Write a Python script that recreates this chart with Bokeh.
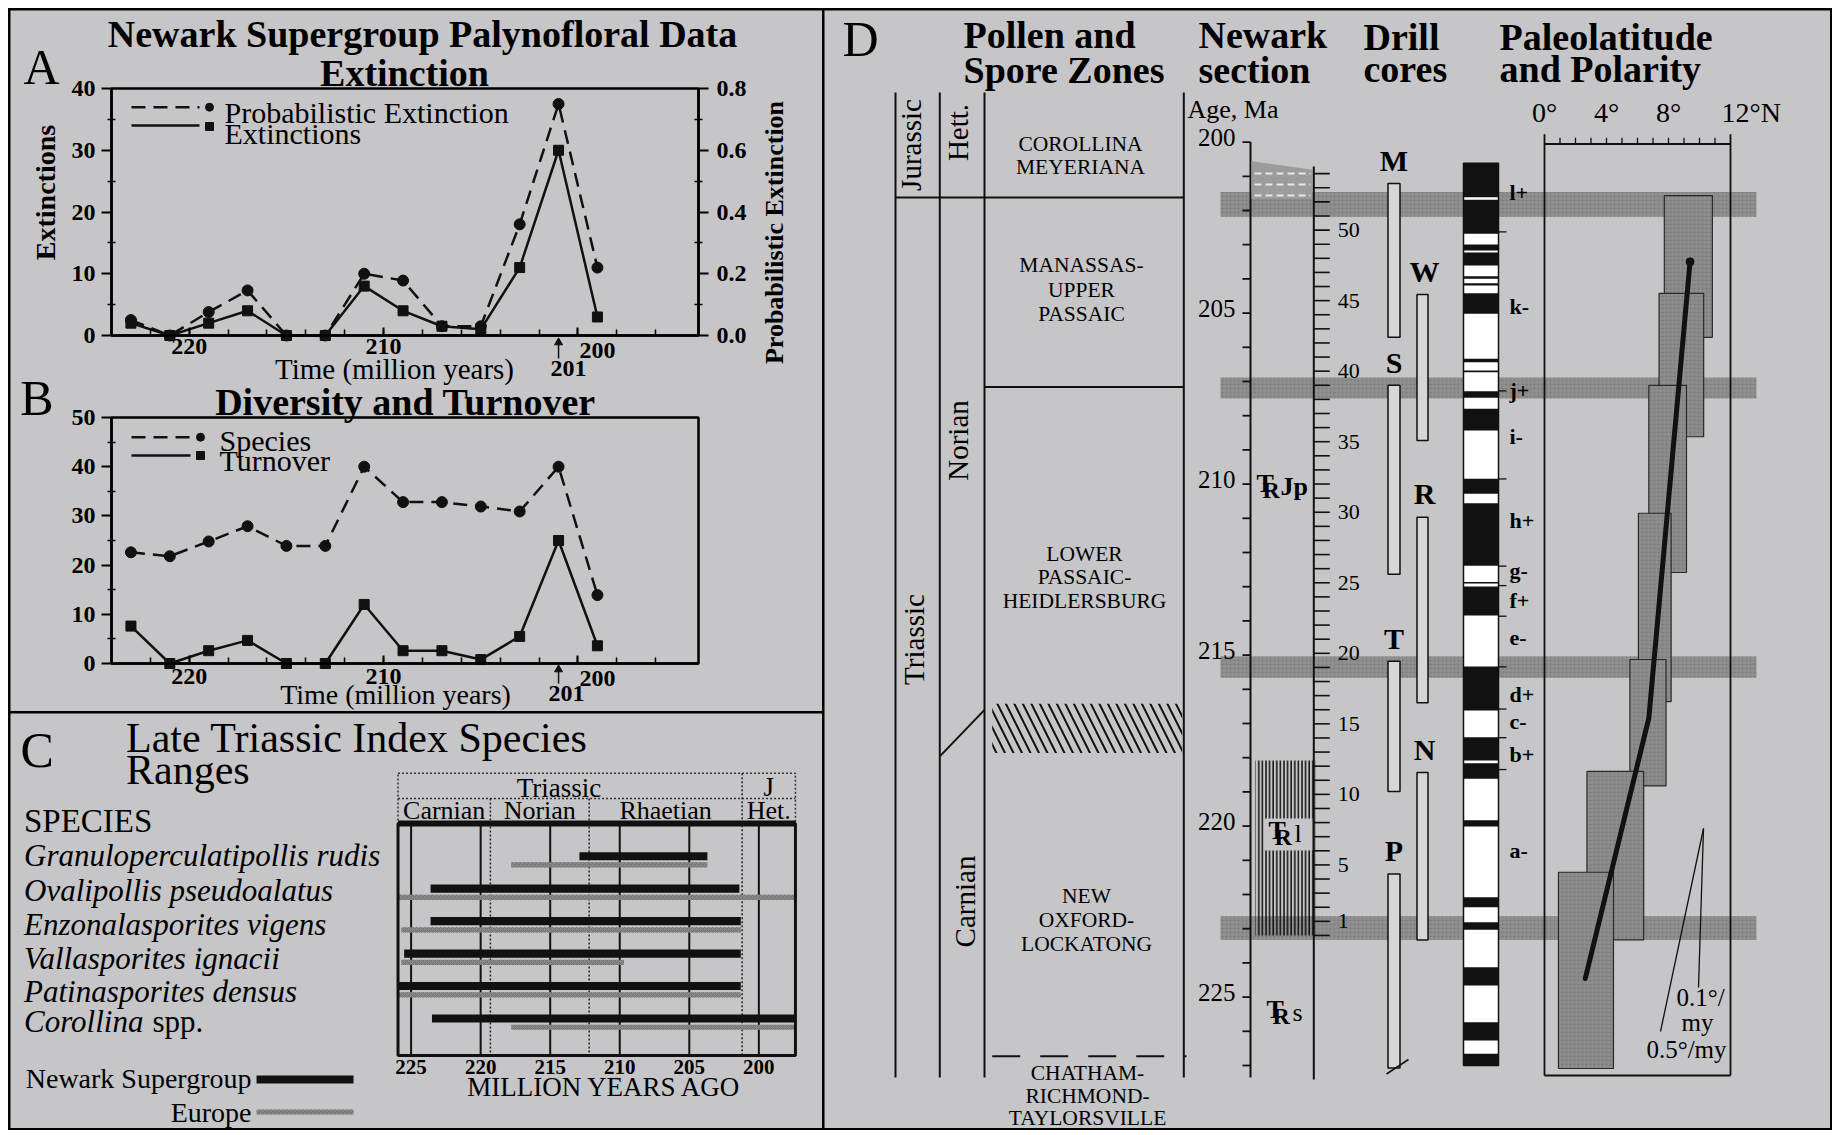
import math
from bokeh.plotting import figure
from bokeh.layouts import row, column
from bokeh.models import Range1d, LinearAxis, FixedTicker, PrintfTickFormatter
from bokeh.core.properties import value
from bokeh.embed import file_html
from bokeh.resources import INLINE

BG = "#c6c6c8"
SERIF = "Liberation Serif"
INK = "#111111"
BAND = "#8f8f8f"

# ===================== DATA =====================
# Panels A and B (time in Ma)
times = [223, 221, 219, 217, 215, 213, 211, 209, 207, 205, 203, 201, 199]
extinctions = [2, 0, 2, 4, 0, 0, 8, 4, 1.5, 1, 11, 30, 3]
prob_extinction = [0.05, 0.0, 0.076, 0.146, 0.0, 0.0, 0.20, 0.178, 0.03, 0.03, 0.36, 0.75, 0.22]
species_count = [22.6, 21.8, 24.8, 27.9, 23.9, 23.9, 40, 32.8, 32.8, 31.9, 30.9, 40, 13.9]
turnover = [7.6, 0, 2.6, 4.7, 0, 0, 12, 2.6, 2.6, 0.8, 5.5, 25, 3.6]
time_ticks = [220, 210, 200]
time_minor = list(range(196, 224, 2))
ext_ticks = [0, 10, 20, 30, 40]
prob_ticks = [0.0, 0.2, 0.4, 0.6, 0.8]
div_ticks = [0, 10, 20, 30, 40, 50]

# Panel C (ranges in Ma)
index_species = ["Granuloperculatipollis rudis", "Ovalipollis pseudoalatus",
                 "Enzonalasporites vigens", "Vallasporites ignacii",
                 "Patinasporites densus", "Corollina"]
newark_start = [212.9, 223.6, 223.6, 225.5, 225.9, 223.5]
newark_end = [203.7, 201.4, 201.3, 201.3, 201.3, 197.4]
europe_start = [217.8, 225.9, 225.7, 225.7, 225.9, 217.8]
europe_end = [203.7, 197.4, 201.3, 209.7, 201.3, 197.4]
ma_ticks = [225, 220, 215, 210, 205, 200]
stage_names = ["Carnian", "Norian", "Rhaetian", "Het."]
stage_bounds = [225.94, 219.3, 212.2, 201.2, 197.37]
period_names = ["Triassic", "J"]

# Panel D
age_ticks = list(range(200, 228))
age_labels = [200, 205, 210, 215, 220, 225]
jt_boundary = 201.62
zone_boundary = 207.16
carnian_norian = [217.96, 216.6]
hatch_zone = [216.42, 217.86]
lower_zone_dash = 226.73
lockatong = [218.08, 223.2]
depth_labels = [50, 45, 40, 35, 30, 25, 20, 15, 10, 5, 1]
band_top = [52.7, 39.55, 19.77, 1.36]
band_bot = [50.95, 38.06, 18.27, -0.32]
core_names = ["M", "S", "T", "P", "W", "R", "N"]
core_col = [0, 0, 0, 0, 1, 1, 1]
core_top = [53.3, 39.0, 19.43, 4.36, 45.44, 29.65, 11.55]
core_bot = [42.4, 25.6, 10.2, -9.4, 35.09, 16.49, -0.32]
pol_top_all, pol_bot_all = 54.74, -9.22
pol_black_top = [54.74, 52.15, 48.98, 48.42, 46.73, 46.24, 45.53, 40.88, 40.05, 38.58, 37.33,
                 32.37, 30.64, 25.05, 24.74, 19.07, 14.05, 12.21, 8.17, 2.71, 0.94, -2.25,
                 -6.15, -8.39]
pol_black_bot = [52.33, 49.74, 48.55, 47.49, 46.55, 46.07, 44.07, 40.64, 39.93, 38.11, 35.79,
                 31.31, 26.2, 24.95, 22.68, 15.95, 12.40, 11.10, 7.72, 2.00, 0.40, -3.55,
                 -7.45, -9.22]
pol_zone_names = ["l+", "k-", "j+", "i-", "h+", "g-", "f+", "e-", "d+", "c-", "b+", "a-"]
pol_zone_depth = [52.7, 44.6, 38.6, 35.4, 29.4, 25.9, 23.72, 21.1, 17.1, 15.15, 12.8, 6.04]
pol_bounds = [49.87, 38.6, 32.36, 26.18, 24.8, 22.63, 19.04, 16.05, 14.02, 11.76]
lat_ticks = list(range(0, 13))
lat_labels = [0, 4, 8]
box_lat_min = [7.73, 7.39, 6.73, 6.06, 5.51, 2.74, 0.9]
box_lat_max = [10.83, 10.27, 9.16, 8.17, 7.84, 6.4, 4.45]
box_top = [52.45, 45.52, 39.0, 29.93, 19.56, 11.63, 4.48]
box_bot = [42.4, 35.35, 25.73, 16.57, 10.6, -0.32, -9.43]
trend_lat = [2.63, 6.73, 9.39]
trend_depth = [-3.05, 15.4, 47.75]


# ===================== HELPERS =====================
def base_fig(w, h, xr, yr):
    p = figure(width=w, height=h, x_range=xr, y_range=yr, output_backend="svg",
               toolbar_location=None, x_axis_location=None, y_axis_location=None,
               min_border=0, title=None)
    p.background_fill_color = BG
    p.border_fill_color = BG
    p.outline_line_color = None
    p.grid.visible = False
    return p


def txt(p, x, y, texts, size, style="normal", align="center", baseline="middle", angle=0.0,
        **kw):
    p.text(x=x, y=y, text=texts, text_font=value(SERIF), text_font_size=f"{size}px",
           text_font_style=style, text_align=align, text_baseline=baseline, angle=angle,
           text_color="black", **kw)


def style_axis(ax, out=10, tin=0, mout=4, min_=4, standoff=6):
    ax.axis_line_width = 2.5
    ax.axis_line_color = "black"
    ax.major_tick_line_width = 2
    ax.minor_tick_line_width = 1.5
    ax.major_tick_out = out
    ax.major_tick_in = tin
    ax.minor_tick_out = mout
    ax.minor_tick_in = min_
    ax.major_label_text_font = SERIF
    ax.major_label_text_font_style = "bold"
    ax.major_label_text_font_size = "24px"
    ax.major_label_text_color = "black"
    ax.major_label_standoff = standoff


# ===================== PANELS A + B (one canvas, shared time scale) =====================
T0, T1 = 224, 193.8                       # plotted time span (left -> right)
A_L, A_R, A_T, A_B = 111, 698, 88, 335    # page position of plot box A
B_T, B_B = 417, 663                       # page position of plot box B (top, bottom)


def ax_(px):
    return T0 + (px - A_L) * (T1 - T0) / (A_R - A_L)


def ay_(py):
    return 40 * (A_B - py) / (A_B - A_T)


def by_(py):
    return 50 * (B_B - py) / (B_B - B_T)


pAB = base_fig(812, 701, Range1d(ax_(10), ax_(822)), Range1d(ay_(711), ay_(10)))
pAB.extra_y_ranges = {"prob": Range1d(ay_(711) / 50, ay_(10) / 50),
                      "div": Range1d(by_(711), by_(10))}
DIV = dict(y_range_name="div")

# ---- A axes
xa = LinearAxis(ticker=FixedTicker(ticks=time_ticks, minor_ticks=time_minor),
                fixed_location=0, bounds=(T1, T0))
xa.major_label_overrides = {200: ""}
style_axis(xa, out=0, tin=8, mout=0, min_=6, standoff=3)
pAB.add_layout(xa, "below")
ya = LinearAxis(ticker=FixedTicker(ticks=ext_ticks, minor_ticks=[5, 15, 25, 35]),
                fixed_location=T0, bounds=(0, 40))
style_axis(ya)
pAB.add_layout(ya, "left")
yp = LinearAxis(y_range_name="prob",
                ticker=FixedTicker(ticks=prob_ticks, minor_ticks=[0.1, 0.3, 0.5, 0.7]),
                formatter=PrintfTickFormatter(format="%.1f"), fixed_location=T1,
                bounds=(0, 0.8))
style_axis(yp, standoff=8)
pAB.add_layout(yp, "right")
pAB.quad(left=T0, right=T1, top=40, bottom=0, fill_color=None, line_color="black",
         line_width=2.5)

pAB.line(times, prob_extinction, y_range_name="prob", line_dash="14 8", line_width=2.5,
         color=INK)
pAB.scatter(times, prob_extinction, y_range_name="prob", marker="circle", size=11, color=INK)
pAB.line(times, extinctions, line_width=2.5, color=INK)
pAB.scatter(times, extinctions, marker="square", size=10, color=INK)

pAB.line([ax_(131), ax_(199)], [ay_(106.7)] * 2, line_dash="14 8", line_width=2.5, color=INK)
pAB.scatter([ax_(209)], [ay_(106.7)], marker="circle", size=8, color=INK)
pAB.line([ax_(131), ax_(199)], [ay_(125)] * 2, line_width=2.5, color=INK)
pAB.scatter([ax_(209)], [ay_(126)], marker="square", size=8, color=INK)
txt(pAB, ax_(224), ay_(111.7), ["Probabilistic Extinction"], 30, align="left")
txt(pAB, ax_(224), ay_(133), ["Extinctions"], 30, align="left")

txt(pAB, ax_(422), ay_(33), ["Newark Supergroup Palynofloral Data"], 38, "bold")
txt(pAB, ax_(404), ay_(72), ["Extinction"], 38, "bold")
txt(pAB, ax_(41), ay_(66), ["A"], 50)
txt(pAB, ax_(44.5), ay_(192), ["Extinctions"], 28, "bold", angle=math.pi / 2)
txt(pAB, ax_(774), ay_(232), ["Probabilistic Extinction"], 26, "bold", angle=math.pi / 2)
txt(pAB, ax_(394), ay_(368), ["Time (million years)"], 29)
txt(pAB, ax_(597), ay_(350), ["200"], 24, "bold")
txt(pAB, ax_(568), ay_(368), ["201"], 24, "bold")
pAB.segment(x0=201, y0=ay_(358), x1=201, y1=ay_(343), line_width=1.5, color=INK)
pAB.scatter([201], [ay_(342)], marker="triangle", size=8, color=INK)

# ---- B axes
xb = LinearAxis(ticker=FixedTicker(ticks=time_ticks, minor_ticks=time_minor),
                fixed_location=0, bounds=(T1, T0), **DIV)
xb.major_label_overrides = {200: ""}
style_axis(xb, out=0, tin=8, mout=0, min_=6, standoff=5)
pAB.add_layout(xb, "below")
yb = LinearAxis(ticker=FixedTicker(ticks=div_ticks, minor_ticks=[5, 15, 25, 35, 45]),
                fixed_location=T0, bounds=(0, 50), **DIV)
style_axis(yb)
pAB.add_layout(yb, "left")
pAB.quad(left=T0, right=T1, top=50, bottom=0, fill_color=None, line_color="black",
         line_width=2.5, **DIV)

pAB.line(times, species_count, line_dash="14 8", line_width=2.5, color=INK, **DIV)
pAB.scatter(times, species_count, marker="circle", size=11, color=INK, **DIV)
pAB.line(times, turnover, line_width=2.5, color=INK, **DIV)
pAB.scatter(times, turnover, marker="square", size=10, color=INK, **DIV)

pAB.line([ax_(131), ax_(190)], [by_(436.7)] * 2, line_dash="14 8", line_width=2.5, color=INK,
         **DIV)
pAB.scatter([ax_(200)], [by_(436.7)], marker="circle", size=8, color=INK, **DIV)
pAB.line([ax_(131), ax_(190)], [by_(455)] * 2, line_width=2.5, color=INK, **DIV)
pAB.scatter([ax_(200)], [by_(455)], marker="square", size=8, color=INK, **DIV)
txt(pAB, ax_(219), by_(440), ["Species"], 30, align="left", **DIV)
txt(pAB, ax_(219), by_(460), ["Turnover"], 30, align="left", **DIV)

txt(pAB, ax_(36.5), by_(397), ["B"], 50, **DIV)
txt(pAB, ax_(405), by_(401), ["Diversity and Turnover"], 38, "bold", **DIV)
txt(pAB, ax_(395), by_(694), ["Time (million years)"], 28, **DIV)
txt(pAB, ax_(597), by_(678), ["200"], 24, "bold", **DIV)
txt(pAB, ax_(566), by_(693), ["201"], 24, "bold", **DIV)
pAB.segment(x0=201, y0=by_(683), x1=201, y1=by_(670), line_width=1.5, color=INK, **DIV)
pAB.scatter([201], [by_(669)], marker="triangle", size=8, color=INK, **DIV)


# ===================== PANEL C =====================
def cx(px):
    return 225 - (px - 410.6) / 13.91


def cy(py):
    return 1 + (py - 855.7) / 32.46


pC = base_fig(812, 415, Range1d(cx(10), cx(822)), Range1d(cy(1128), cy(713)))

CH_L, CH_R = stage_bounds[0], stage_bounds[-1]
HDR_TOP, HDR_MID, CH_TOP, CH_BOT = cy(772.7), cy(798), cy(823), cy(1055)
rows = list(range(1, len(index_species) + 1))
name_rows = [cy(y) for y in [855, 890, 924, 958, 991, 1021]]

pC.quad(left=CH_L, right=CH_R, top=HDR_TOP, bottom=CH_TOP, fill_color=None,
        line_color="#333333", line_width=1.5, line_dash="2 2")
pC.segment(x0=CH_L, y0=HDR_MID, x1=CH_R, y1=HDR_MID, line_color="#333333", line_width=1.5,
           line_dash="2 2")
pC.segment(x0=stage_bounds[1:3], y0=[HDR_MID] * 2, x1=stage_bounds[1:3], y1=[CH_BOT] * 2,
           line_color="#222222", line_width=1.5, line_dash="2 2")
pC.segment(x0=stage_bounds[3], y0=HDR_TOP, x1=stage_bounds[3], y1=CH_BOT,
           line_color="#222222", line_width=1.5, line_dash="2 2")
pC.segment(x0=ma_ticks, y0=[CH_TOP] * 6, x1=ma_ticks, y1=[CH_BOT] * 6, line_color=INK,
           line_width=2)
pC.quad(left=europe_start, right=europe_end, top=[r + 0.19 for r in rows],
        bottom=[r + 0.35 for r in rows], fill_color="#8a8a8a", line_color=None,
        hatch_pattern="x", hatch_color="#6c6c6c", hatch_scale=4, hatch_weight=0.8)
pC.quad(left=newark_start, right=newark_end, top=[r - 0.125 for r in rows],
        bottom=[r + 0.125 for r in rows], fill_color=INK, line_color=None)
pC.quad(left=CH_L, right=CH_R, top=CH_TOP, bottom=CH_BOT, fill_color=None, line_color=INK,
        line_width=3)
pC.segment(x0=CH_L, y0=CH_TOP, x1=CH_R, y1=CH_TOP, line_color=INK, line_width=6)

txt(pC, (stage_bounds[0] + stage_bounds[3]) / 2 + 0.8, cy(787), [period_names[0]], 27)
txt(pC, (stage_bounds[3] + stage_bounds[4]) / 2, cy(786), [period_names[1]], 27)
txt(pC, [(stage_bounds[i] + stage_bounds[i + 1]) / 2 for i in range(4)], [cy(810)] * 4,
    stage_names, 26)
txt(pC, ma_ticks, [cy(1066)] * 6, [str(t) for t in ma_ticks], 21, "bold")
txt(pC, cx(604), cy(1086), ["MILLION YEARS AGO"], 27)

txt(pC, cx(36.6), cy(749), ["C"], 50)
txt(pC, cx(125.5), cy(737), ["Late Triassic Index Species"], 42, align="left")
txt(pC, cx(125.5), cy(769), ["Ranges"], 42, align="left")
txt(pC, cx(23.5), cy(820), ["SPECIES"], 33, align="left")
txt(pC, [cx(23.5)] * 6, name_rows, index_species, 31, "italic", align="left")
txt(pC, cx(152), name_rows[-1], ["spp."], 31, align="left")
txt(pC, cx(251), cy(1078), ["Newark Supergroup"], 28, align="right")
txt(pC, cx(251), cy(1112), ["Europe"], 28, align="right")
pC.quad(left=cx(256), right=cx(353), top=cy(1075), bottom=cy(1083), fill_color=INK,
        line_color=None)
pC.quad(left=cx(256), right=cx(353), top=cy(1109), bottom=cy(1114), fill_color="#8a8a8a",
        line_color=None, hatch_pattern="x", hatch_color="#6c6c6c", hatch_scale=4,
        hatch_weight=0.8)


# ===================== PANEL D =====================
def age_at(py):
    return 200 + (py - 141.6) / 34.2


def dep_at(py):
    return 50 + (229.6 - py) / 14.107


def lat_at(px):
    return (px - 1544) / 15.5


pD = base_fig(1006, 1118, Range1d(824, 1830), Range1d(age_at(1128), age_at(10)))
pD.extra_y_ranges = {"depth": Range1d(dep_at(1128), dep_at(10))}
pD.extra_x_ranges = {"lat": Range1d(lat_at(824), lat_at(1830))}
DEP = dict(y_range_name="depth")
LATDEP = dict(y_range_name="depth", x_range_name="lat")

pD.quad(left=1220, right=1756, top=band_top, bottom=band_bot, fill_color=BAND,
        line_color=None, hatch_pattern="dot", hatch_color="#7a7a7a", hatch_scale=4, **DEP)

txt(pD, 860, age_at(38), ["D"], 50)
txt(pD, [963, 963, 1198, 1198, 1363, 1363, 1499, 1499],
    [age_at(y) for y in [34, 69, 34, 69, 36, 68, 36, 68]],
    ["Pollen and", "Spore Zones", "Newark", "section", "Drill", "cores", "Paleolatitude",
     "and Polarity"], 38, "bold", align="left")

COLX = [895, 939.3, 984, 1183.3]
COL_TOP, COL_BOT = age_at(92), age_at(1077)
pD.segment(x0=COLX, y0=[COL_TOP] * 4, x1=COLX, y1=[COL_BOT] * 4, line_width=2, color=INK)
pD.segment(x0=[895, 984], y0=[jt_boundary, zone_boundary], x1=[1183.3, 1183.3],
           y1=[jt_boundary, zone_boundary], line_width=2, color=INK)
pD.segment(x0=939.3, y0=carnian_norian[0], x1=984, y1=carnian_norian[1], line_width=2,
           color=INK)
pD.segment(x0=991.7, y0=lower_zone_dash, x1=1186, y1=lower_zone_dash, line_width=2,
           color=INK, line_dash="28 20")
pD.quad(left=991.7, right=1181.7, top=hatch_zone[0], bottom=hatch_zone[1], fill_color=None,
        line_color=None, hatch_pattern="\\", hatch_color=INK, hatch_scale=17, hatch_weight=2)
txt(pD, [910, 957, 957, 913, 964],
    [age_at(y) for y in [144.5, 132, 440, 639, 901]],
    ["Jurassic", "Hett.", "Norian", "Triassic", "Carnian"], 29, angle=math.pi / 2)
zone_lines = ["COROLLINA", "MEYERIANA", "MANASSAS-", "UPPER", "PASSAIC", "LOWER", "PASSAIC-",
              "HEIDLERSBURG", "NEW", "OXFORD-", "LOCKATONG", "CHATHAM-", "RICHMOND-",
              "TAYLORSVILLE"]
zone_x = [1080] * 2 + [1081] * 3 + [1084] * 3 + [1086] * 3 + [1087] * 3
zone_y = [143.5, 166.5, 264, 289, 313.5, 553, 576.5, 600, 895.5, 919.5, 943.5, 1072, 1095,
          1117]
txt(pD, zone_x, [age_at(y) for y in zone_y], zone_lines, 21.5)

AX = 1250
txt(pD, 1187, age_at(109), ["Age, Ma"], 26, align="left")
pD.segment(x0=AX, y0=200, x1=AX, y1=COL_BOT, line_width=2, color=INK)
pD.segment(x0=AX - 8, y0=age_ticks, x1=AX, y1=age_ticks, line_width=1.8, color=INK)
txt(pD, AX - 15, [a - 0.12 for a in age_labels], [str(a) for a in age_labels], 25,
    align="right")

pD.patch([1251, 1312, 1312, 1251],
         [age_at(160.7), age_at(169.3), age_at(198.3), age_at(198.3)],
         fill_color="#9c9c9c", line_color=None)
pD.segment(x0=1254, y0=[age_at(y) for y in [173, 184, 195]], x1=1310,
           y1=[age_at(y) for y in [173, 184, 195]], line_color="#e8e8e8", line_width=2,
           line_dash="7 4")
pD.quad(left=1255, right=1315, top=lockatong[0], bottom=lockatong[1], fill_color=None,
        line_color=None, hatch_pattern="|", hatch_color=INK, hatch_scale=3.6, hatch_weight=1.5)
pD.quad(left=1264, right=1312, top=age_at(818), bottom=age_at(850), fill_color=BG,
        line_color=None)
for x0, yy, tail in [(1256, 486, "Jp"), (1268, 833, "l"), (1266, 1012, "s")]:
    txt(pD, x0, age_at(yy - 3), ["T"], 26, "bold", align="left")
    txt(pD, x0 + 6, age_at(yy + 3), ["R"], 24, "bold", align="left")
    txt(pD, x0 + 24 + (2 if tail != "Jp" else 0), age_at(yy), [tail], 26,
        "bold" if tail == "Jp" else "normal", align="left")

RX = 1313.3
pD.segment(x0=RX, y0=54.5, x1=RX, y1=dep_at(1079), line_width=2, color=INK, **DEP)
dticks = list(range(0, 55))
pD.segment(x0=RX, y0=dticks, x1=RX + 16, y1=dticks, line_width=1.6, color=INK, **DEP)
txt(pD, RX + 24, depth_labels, [str(d) for d in depth_labels], 22, align="left", **DEP)

CORE_X = [1393.5, 1422]
CORE_W = [12, 11]
cxs = [CORE_X[c] for c in core_col]
cws = [CORE_W[c] for c in core_col]
pD.quad(left=[a - w / 2 for a, w in zip(cxs, cws)], right=[a + w / 2 for a, w in zip(cxs, cws)],
        top=core_top, bottom=core_bot, fill_color="#d6d6d6", line_color=INK, line_width=1.5,
        **DEP)
txt(pD, [a + (2 if c else 0) for a, c in zip(cxs, core_col)], [t + 1.65 for t in core_top],
    core_names, 30, "bold", **DEP)
pD.segment(x0=1386, y0=dep_at(1073.5), x1=1408, y1=dep_at(1059), line_width=1.5, color=INK,
           **DEP)

PL, PR = 1463, 1498
pD.quad(left=PL, right=PR, top=pol_top_all, bottom=pol_bot_all, fill_color="white",
        line_color=INK, line_width=1.5, **DEP)
pD.quad(left=PL, right=PR, top=pol_black_top, bottom=pol_black_bot, fill_color=INK,
        line_color=None, **DEP)
pD.segment(x0=PR, y0=pol_bounds, x1=PR + 8, y1=pol_bounds, line_width=1.3, color=INK, **DEP)
txt(pD, PR + 11, pol_zone_depth, pol_zone_names, 22, "bold", align="left", **DEP)

LT, LB = dep_at(143.5), dep_at(1075)
pD.segment(x0=[0, 0, 12, 0], y0=[LT, LT + 0.7, LT + 0.7, LB], x1=[12, 0, 12, 12],
           y1=[LT, LB, LB, LB], line_width=1.8, color=INK, **LATDEP)
pD.segment(x0=lat_ticks[1:-1], y0=[LT] * 11, x1=lat_ticks[1:-1], y1=[LT + 0.45] * 11,
           line_width=1.3, color=INK, **LATDEP)
txt(pD, lat_labels, [dep_at(112)] * 3, [f"{v}°" for v in lat_labels], 28, **LATDEP)
txt(pD, lat_at(1721), dep_at(112), ["12°N"], 28, align="left", **LATDEP)
pD.quad(left=box_lat_min, right=box_lat_max, top=box_top, bottom=box_bot,
        fill_color="#8c8c8c", line_color="#2a2a2a", line_width=1.2, hatch_pattern="dot",
        hatch_color="#777777", hatch_scale=4, **LATDEP)
pD.line(trend_lat, trend_depth, line_width=5, color=INK, line_cap="round", **LATDEP)
pD.scatter([trend_lat[-1]], [trend_depth[-1]], size=8, color=INK, **LATDEP)
pD.segment(x0=[lat_at(1703), lat_at(1703)], y0=[dep_at(828)] * 2,
           x1=[lat_at(1698), lat_at(1660)], y1=[dep_at(987), dep_at(1031)],
           line_width=1.3, color=INK, **LATDEP)
txt(pD, [lat_at(1700), lat_at(1697), lat_at(1686)], [dep_at(997), dep_at(1022), dep_at(1049)],
    ["0.1°/", "my", "0.5°/my"], 25, **LATDEP)

# ===================== LAYOUT =====================
pAB.margin = (2, 2, 0, 2)
pC.margin = (2, 2, 2, 2)
pD.margin = (2, 2, 2, 0)
left = column(pAB, pC, spacing=0)
root = row(left, pD, spacing=0, styles={"background-color": "black"})
root.margin = (8, 0, 0, 8)

open("out.html", "w").write(file_html(root, INLINE))
